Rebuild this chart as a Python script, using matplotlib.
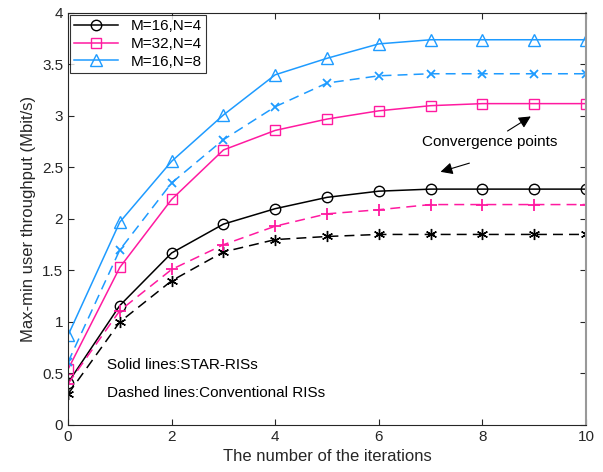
import matplotlib.pyplot as plt

plt.rcParams['font.family'] = ['Liberation Sans', 'DejaVu Sans']

# dados
iters = [0, 1, 2, 3, 4, 5, 6, 7, 8, 9, 10]
star_16_4 = [0.41, 1.16, 1.67, 1.95, 2.10, 2.21, 2.27, 2.29, 2.29, 2.29, 2.29]
star_32_4 = [0.54, 1.53, 2.19, 2.67, 2.86, 2.97, 3.05, 3.10, 3.12, 3.12, 3.12]
star_16_8 = [0.87, 1.97, 2.56, 3.01, 3.40, 3.56, 3.70, 3.74, 3.74, 3.74, 3.74]
conv_16_4 = [0.30, 1.00, 1.40, 1.68, 1.80, 1.83, 1.85, 1.85, 1.85, 1.85, 1.85]
conv_32_4 = [0.40, 1.11, 1.51, 1.75, 1.93, 2.05, 2.09, 2.14, 2.14, 2.14, 2.14]
conv_16_8 = [0.61, 1.70, 2.35, 2.77, 3.09, 3.32, 3.39, 3.41, 3.41, 3.41, 3.41]

preto = 'black'
rosa = '#ff1aa0'
azul = '#1e9bff'
tracos = (6.5, 4)

fig = plt.figure(figsize=(6.03, 4.72), dpi=100)
ax = fig.add_axes([0.1128, 0.0996, 0.8590, 0.8729])

ax.plot(iters, star_16_4, '-', color=preto, marker='o', ms=7.5, mfc='none', lw=1.1, label='M=16,N=4')
ax.plot(iters, star_32_4, '-', color=rosa, marker='s', ms=7, mfc='none', lw=1.1, label='M=32,N=4')
ax.plot(iters, star_16_8, '-', color=azul, marker='^', ms=9, mfc='none', lw=1.1, label='M=16,N=8')
ax.plot(iters, conv_16_4, '--', dashes=tracos, color=preto, marker=(6, 2, 0), ms=8, lw=1.1)
ax.plot(iters, conv_32_4, '--', dashes=tracos, color=rosa, marker='+', ms=9, mew=1.3, lw=1.1)
ax.plot(iters, conv_16_8, '--', dashes=tracos, color=azul, marker='x', ms=6, mew=1.3, lw=1.1)

ax.set_xlim(0, 10)
ax.set_ylim(0, 4)
ax.set_xticks([0, 2, 4, 6, 8, 10])
ax.set_yticks([0, 0.5, 1, 1.5, 2, 2.5, 3, 3.5, 4])
ax.set_yticklabels(['0', '0.5', '1', '1.5', '2', '2.5', '3', '3.5', '4'])
ax.tick_params(direction='in', top=True, right=True, labelsize=11, colors='#262626', length=4)
for s in ax.spines.values():
    s.set_color('#262626')
    s.set_linewidth(0.8)
ax.spines['right'].set_color('#999999')
ax.spines['right'].set_linewidth(1.5)

ax.set_xlabel('The number of the iterations', fontsize=12, color='#262626')
ax.set_ylabel('Max-min user throughput (Mbit/s)', fontsize=12, color='#262626')

leg = ax.legend(loc='upper left', fontsize=11, frameon=True, fancybox=False, edgecolor='black',
                borderaxespad=0.1, handlelength=2.9, borderpad=0.3, labelspacing=0.25)
leg.get_frame().set_linewidth(0.8)

ax.text(0.75, 0.58, 'Solid lines:STAR-RISs', fontsize=11, va='center')
ax.text(0.75, 0.31, 'Dashed lines:Conventional RISs', fontsize=11, va='center')
ax.text(8.15, 2.75, 'Convergence points', fontsize=11, ha='center', va='center')
ax.annotate('', xy=(8.98, 3.01), xytext=(8.44, 2.84),
            arrowprops=dict(arrowstyle='-|>', color='black', lw=0.8, mutation_scale=18))
ax.annotate('', xy=(7.14, 2.45), xytext=(7.80, 2.55),
            arrowprops=dict(arrowstyle='-|>', color='black', lw=0.8, mutation_scale=18))

plt.savefig('out.png', dpi=100)
